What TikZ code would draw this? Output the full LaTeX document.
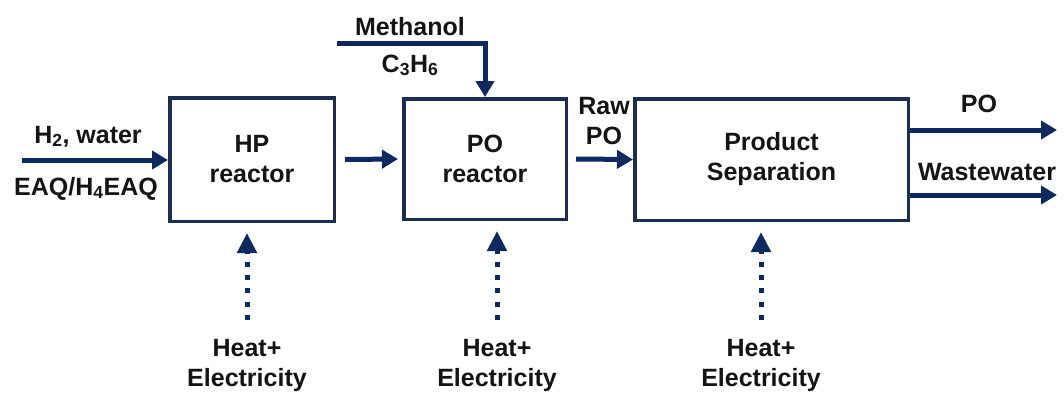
\documentclass[tikz,border=0pt]{standalone}
\usepackage{fontspec}
\setmainfont{Liberation Sans}
\usetikzlibrary{arrows.meta,shadows}
\definecolor{navy}{RGB}{14,40,96}
\definecolor{boxnavy}{RGB}{28,46,80}
\begin{document}
\begin{tikzpicture}[x=1pt,y=-1pt,
  every node/.style={font=\bfseries\fontsize{25}{30}\selectfont, text=black!92, inner sep=0pt, align=center},
  unitbox/.style={draw=boxnavy, line width=3.5pt, fill=white,
    drop shadow={shadow xshift=2pt, shadow yshift=-2pt, opacity=0.25, fill=black}},
  flow/.style={draw=navy, line width=5pt, -{Triangle[length=16pt,width=18pt]}},
  heat/.style={draw=navy, line width=5pt, dash pattern=on 5pt off 8.3pt,
    -{Triangle[length=20pt,width=19pt]}}
]
\useasboundingbox (0,0) rectangle (1064,392);

% process units
\node[unitbox, minimum width=164.5pt, minimum height=123.5pt] (hp) at (252,159.5) {HP\\reactor};
\node[unitbox, minimum width=162.5pt, minimum height=120.5pt] (po) at (485,159) {PO\\reactor};
\node[unitbox, minimum width=273.5pt, minimum height=121.5pt] (sep) at (771.5,159.5) {Product\\Separation};

% stream labels
\node[anchor=base] (h2) at (88,143) {H\textsubscript{2}, water};
\node[anchor=base] (eaq) at (86,195) {EAQ/H\textsubscript{4}EAQ};
\node[anchor=base] (meth) at (410,35) {Methanol};
\node[anchor=base] (c3h6) at (410,72) {C\textsubscript{3}H\textsubscript{6}};
\node[anchor=north] (raw) at (604,97) {Raw\\PO};
\node[anchor=base] (poout) at (979,112) {PO};
\node[anchor=base] (ww) at (987,180) {Wastewater};

% utility labels
\node[anchor=north] (heat1) at (247,339) {Heat+\\Electricity};
\node[anchor=north] (heat2) at (497,339) {Heat+\\Electricity};
\node[anchor=north] (heat3) at (761,339) {Heat+\\Electricity};

% end points
\coordinate (h2start) at (22,160);
\coordinate (methstart) at (337,43);
\coordinate (poend) at (1057,130);
\coordinate (wwend) at (1057,195);

% connectors
\draw[flow] (h2start) -- (hp.west |- h2start);
\draw[flow] ([xshift=9pt]hp.east) -- ([xshift=-4pt]po.west);
\draw[flow] (methstart) -- (methstart -| po.north) -- (po.north);
\draw[flow] ([xshift=8pt]po.east) -- (sep.west);
\draw[flow] (sep.east |- poend) -- (poend);
\draw[flow] (sep.east |- wwend) -- (wwend);

\draw[heat] ([yshift=19pt]heat1.north) -- ([yshift=-10pt]heat1.north |- hp.south);
\draw[heat] ([yshift=19pt]heat2.north) -- ([yshift=-10pt]heat2.north |- po.south);
\draw[heat] ([yshift=19pt]heat3.north) -- ([yshift=-10pt]heat3.north |- sep.south);
\end{tikzpicture}
\end{document}
